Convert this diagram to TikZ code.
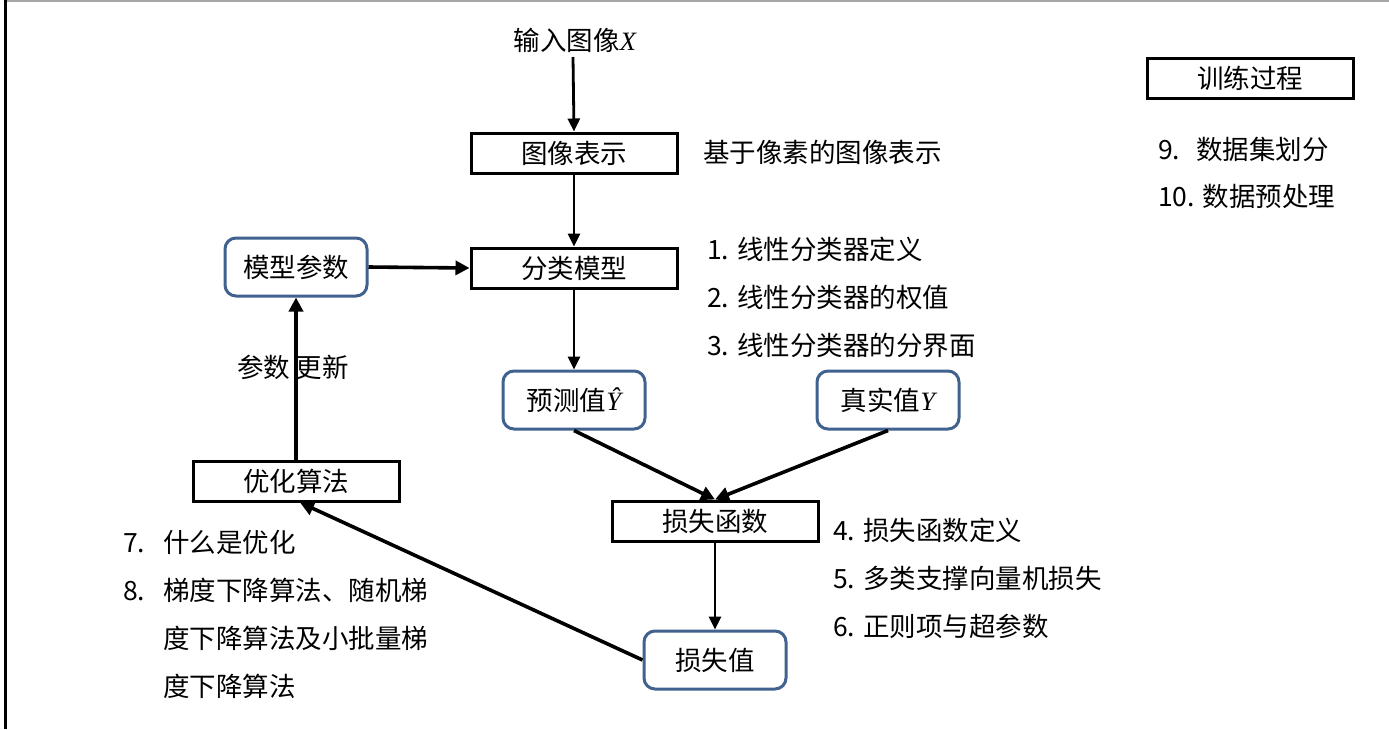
\documentclass[tikz,border=0pt]{standalone}
\usepackage{fontspec}
\setmainfont{Noto Sans CJK SC}
\newfontfamily\tms{Liberation Serif}
\usetikzlibrary{arrows.meta}
\definecolor{bblue}{RGB}{65,98,143}
\newcommand{\vx}[1]{{\tms\itshape #1}}
\tikzset{
  every node/.style={font=\fontsize{26.5}{31}\selectfont, inner sep=0pt},
  sqbox/.style={draw=black, line width=3pt, minimum width=206pt, minimum height=40pt},
  rbox/.style={draw=bblue, line width=3pt, rounded corners=11pt, minimum width=142pt, minimum height=58pt},
  lbl/.style={anchor=west},
  thin arr/.style={line width=2.8pt, -{Triangle[length=13pt,width=12pt]}},
  thick arr/.style={line width=3.6pt, -{Triangle[length=14pt,width=14pt]}},
}
\begin{document}
\begin{tikzpicture}[x=1pt,y=-1pt]
\useasboundingbox (0,0) rectangle (1389,729);
\fill[white] (0,0) rectangle (1389,729);
% frame
\draw[gray!70, line width=1.5pt] (5,1) -- (1389,1);
\draw[black, line width=3pt] (5,0) -- (5,729);

\node (in) at (575,40) {输入图像\vx{X}};
\node[sqbox] (rep) at (574,153) {图像表示};
\node[lbl] (reptxt) at (703,152) {基于像素的图像表示};
\node[sqbox] (cls) at (574,268) {分类模型};
\node[lbl] (t1) at (707,249) {1. 线性分类器定义};
\node[lbl] (t2) at (707,297) {2. 线性分类器的权值};
\node[lbl] (t3) at (707,345) {3. 线性分类器的分界面};
\node[rbox] (param) at (296,267) {模型参数};
\node[rbox] (pred) at (574,400) {预测值\vx{Ŷ}};
\node[rbox] (true) at (888,400) {真实值\vx{Y}};
\node[sqbox] (loss) at (715,521) {损失函数};
\node[lbl] (t4) at (833,530) {4. 损失函数定义};
\node[lbl] (t5) at (833,578) {5. 多类支撑向量机损失};
\node[lbl] (t6) at (833,626) {6. 正则项与超参数};
\node[rbox] (lval) at (715,660) {损失值};
\node[sqbox] (opt) at (296,481) {优化算法};
\node (upd) at (293,367) {参数 更新};
\node[lbl] (t7) at (123,542) {\makebox[40pt][l]{7.}什么是优化};
\node[lbl] (t8) at (123,590) {\makebox[40pt][l]{8.}梯度下降算法、随机梯};
\node[lbl] (t8b) at (163,638) {度下降算法及小批量梯};
\node[lbl] (t8c) at (163,686) {度下降算法};
\node[sqbox] (train) at (1250,78) {训练过程};
\node[lbl] (t9) at (1158,149) {\makebox[38pt][l]{9.}数据集划分};
\node[lbl] (t10) at (1158,196) {10. 数据预处理};

\coordinate (inb) at (573,57);
\draw[thin arr] (inb) -- (rep.north);
\draw[thin arr] (rep.south) -- (cls.north);
\draw[thin arr] (cls.south) -- (pred.north);
\draw[thick arr] (param.east) -- (cls.west);
\draw[thick arr] (pred.south) -- (loss.north);
\draw[thick arr] (true.south) -- (loss.north);
\draw[thin arr] (loss.south) -- (lval.north);
\draw[thick arr] (lval.west) -- ([xshift=4pt]opt.south);
\draw[thick arr] (opt.north) -- (param.south);
\end{tikzpicture}
\end{document}
